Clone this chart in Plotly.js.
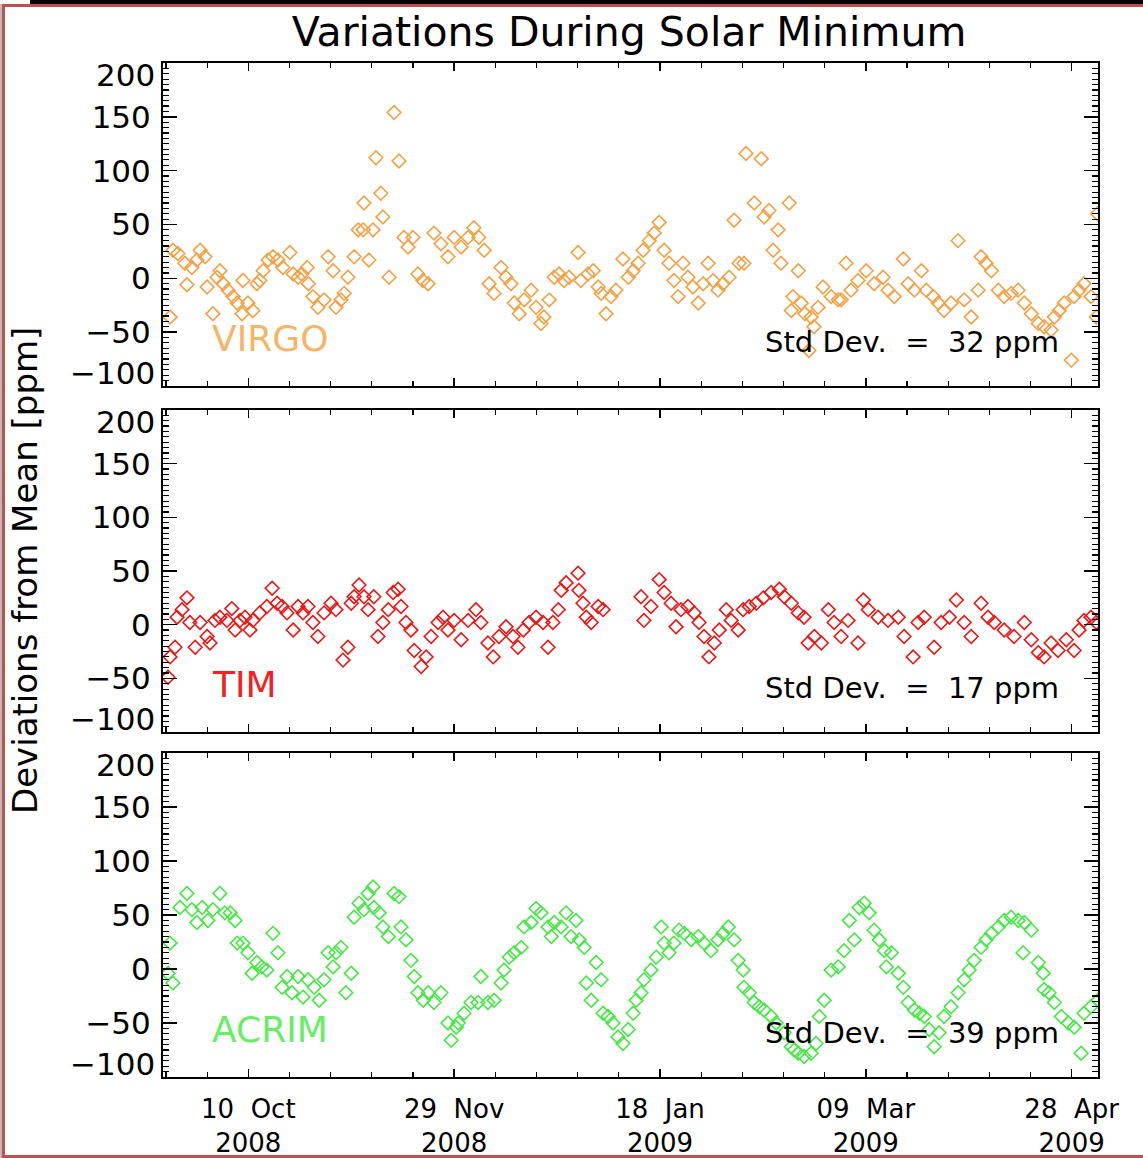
<!DOCTYPE html>
<html>
<head>
<meta charset="utf-8">
<script src="https://cdn.plot.ly/plotly-3.0.1.min.js"></script>
<style>
  html, body { margin: 0; padding: 0; background: #fff; }
  #chart { width: 1143px; height: 1158px; position: absolute; left: 0; top: 0; }
  .frame { position: absolute; }
</style>
</head>
<body>
<div id="chart"></div>
<div class="frame" style="left:30px;top:0;width:1113px;height:4px;background:#000;"></div>
<div class="frame" style="left:2px;top:4px;width:1141px;height:3px;background:#c0504d;"></div>
<div class="frame" style="left:0px;top:4px;width:2px;height:1154px;background:#bbbbbb;"></div>
<div class="frame" style="left:2px;top:4px;width:3px;height:1154px;background:#c0504d;"></div>
<div class="frame" style="left:2px;top:1155px;width:1141px;height:3px;background:#c0504d;"></div>
<script>
// ---- Data (days since 2008-09-19, deviation in ppm) ----
const VIRGO_DAY = [2.0,2.7,3.9,5.6,6.1,7.3,8.5,9.3,10.5,11.0,12.4,13.4,14.1,14.9,16.1,17.3,18.3,19.5,19.7,20.9,22.1,23.1,23.8,24.6,25.8,27.0,28.2,29.4,31.1,31.9,33.1,34.0,35.3,35.6,36.7,37.9,39.4,40.4,41.6,42.3,43.5,44.3,45.2,46.7,47.7,48.9,49.1,50.3,51.3,52.0,53.2,53.7,55.2,56.4,57.6,58.8,59.8,61.0,62.2,63.4,64.7,66.1,67.8,69.5,71.0,72.7,74.4,75.8,77.0,78.3,79.5,80.7,82.4,83.6,84.8,85.6,86.8,88.0,89.7,90.9,92.1,92.8,94.1,95.3,96.5,97.7,98.9,101.1,101.8,103.5,104.8,106.0,106.7,107.9,109.1,110.3,112.0,113.3,114.5,115.7,116.9,118.4,119.6,120.8,122.0,123.2,124.4,125.4,126.6,127.8,129.0,130.3,131.5,132.7,133.9,135.1,136.3,137.8,139.0,140.2,141.4,141.9,143.9,145.6,146.3,147.5,148.5,149.7,150.4,152.4,152.9,153.3,154.6,155.3,156.2,157.2,157.7,158.4,159.4,160.6,162.6,164.3,165.0,166.2,167.4,169.1,171.1,173.0,175.2,176.4,177.9,180.1,181.3,182.8,184.5,185.7,187.4,188.6,190.0,191.7,193.4,194.9,196.6,198.3,199.0,200.2,201.5,203.2,204.6,206.3,208.0,209.5,211.2,212.9,214.3,216.0,216.8,218.0,219.2,220.9,221.6,222.8,224.0,225.7,227.0,227.3];
const VIRGO_VAL = [-36,26,23,14,-6,10,17,26,20,-8,-33,1,7,-5,-11,-17,-23,-33,-2,-23,-30,-5,-2,7,17,20,17,10,24,4,1,4,10,-5,-17,-27,-20,20,7,-27,-20,-14,1,20,45,45,70,17,45,112,79,57,1,154,109,38,29,38,4,-2,-5,42,32,20,38,29,38,47,38,26,-5,-14,10,1,-5,-23,-33,-20,-11,-27,-42,-36,-20,1,4,-2,1,24,-2,4,7,-8,-14,-33,-17,-11,18,1,7,14,26,35,42,52,26,14,-2,-17,14,1,-8,-23,-5,14,-2,-11,-5,1,54,14,14,116,70,111,57,63,26,45,14,70,-30,-17,7,-23,-33,-67,-36,-45,-27,-8,-17,-20,-20,14,-11,-2,7,-5,1,-11,-17,18,-5,-11,7,-11,-17,-23,-30,-23,35,-20,-36,-11,20,14,7,-11,-17,-14,-11,-23,-33,-42,-45,-48,-36,-30,-23,-76,-17,-11,-5,-17,-36,60];

const TIM_DAY = [1.5,2.0,3.2,3.7,4.9,6.1,6.8,8.1,9.3,11.0,11.7,12.9,14.1,15.8,17.0,17.8,19.0,20.2,21.4,22.1,23.8,25.5,26.8,28.0,29.2,30.4,31.9,33.1,34.3,35.5,36.7,37.9,39.4,41.1,42.3,44.0,45.2,46.0,46.7,47.9,49.1,50.1,51.5,52.5,53.7,55.0,56.2,57.4,58.1,59.3,60.5,61.3,63.0,64.2,65.4,67.1,68.3,69.5,71.0,72.7,74.4,76.3,77.5,79.2,80.5,81.9,83.6,85.3,86.5,87.8,89.2,90.9,92.6,93.8,95.0,96.3,97.0,98.2,101.1,101.3,102.3,103.1,104.3,106.0,107.2,116.4,117.1,118.8,120.8,122.0,123.7,124.9,126.1,127.8,129.3,130.5,131.7,132.9,134.2,135.4,137.1,138.3,140.0,141.2,142.7,144.4,146.1,148.0,150.0,151.2,152.9,154.6,156.0,157.0,158.5,160.2,161.9,163.3,165.0,166.7,169.1,170.4,171.6,174.0,176.4,178.9,180.3,182.5,183.7,185.2,187.6,189.3,191.3,193.0,194.9,196.6,199.0,200.7,202.2,204.6,207.0,209.5,211.2,212.9,214.3,216.0,217.7,219.7,221.6,222.8,224.0,225.7,227.0];
const TIM_VAL = [-49,-30,-21,7,14,25,2,-21,2,-11,-17,4,7,4,15,-5,4,7,-5,4,11,17,34,20,17,11,-5,17,11,17,2,-11,11,20,14,-33,-21,20,26,37,26,14,26,-11,2,14,30,33,17,2,-5,-24,-39,-30,-11,2,7,-5,4,-14,4,14,2,-17,-30,-11,-2,-11,-21,-5,2,7,2,-21,2,14,32,39,48,32,20,7,2,17,14,26,4,17,42,30,20,-2,14,17,11,2,-11,-30,-17,-5,14,4,-5,14,17,20,25,30,33,26,20,11,7,-17,-11,-17,14,2,-11,4,-17,23,14,7,4,7,-11,-30,2,7,-21,2,7,23,2,-11,20,7,2,-5,-11,2,-14,-26,-30,-17,-24,-14,-24,-5,4,7,2];

const ACRIM_DAY = [1.5,2.0,2.7,4.4,6.1,7.3,8.5,9.8,11.2,12.4,14.1,15.3,16.6,17.8,18.3,19.7,20.9,21.9,23.1,24.3,25.5,27.0,28.2,29.2,30.4,31.6,33.1,34.3,35.5,37.0,38.2,39.4,40.4,41.6,42.3,43.5,44.7,46.0,46.7,47.9,49.1,50.1,51.3,51.5,52.8,53.7,55.0,56.4,57.6,58.1,59.3,60.5,61.3,62.2,63.5,64.7,66.1,67.8,69.5,70.3,71.5,72.0,73.4,75.1,76.8,77.5,79.2,80.7,82.4,83.1,84.4,85.6,87.3,88.0,89.7,90.9,92.1,93.8,94.6,95.3,97.0,98.2,99.4,100.6,101.4,102.6,103.1,104.3,105.5,106.7,107.2,108.4,109.6,110.8,112.0,113.3,114.5,115.2,116.4,117.1,118.8,120.1,121.3,122.0,123.2,124.4,125.6,126.9,128.6,130.3,131.7,133.4,135.1,136.3,137.6,139.0,140.0,141.2,141.4,142.7,143.9,145.1,146.3,148.0,149.2,151.2,152.9,153.6,154.6,156.0,157.7,158.9,159.7,160.9,162.6,164.3,165.7,167.0,168.2,169.4,170.6,171.8,173.0,174.3,175.5,176.0,177.2,178.9,180.1,181.3,182.8,184.0,185.2,186.4,187.6,188.8,190.0,191.7,193.4,194.9,196.1,197.3,199.0,200.2,201.5,203.2,204.6,206.3,208.0,209.5,211.2,209.2,212.9,214.1,214.3,215.5,216.8,218.5,220.2,221.6,223.3,224.0,225.7,227.4];
const ACRIM_VAL = [-4,24,-13,57,70,55,43,57,45,55,70,52,52,45,24,24,15,-4,6,2,-1,33,15,-17,-7,-22,-7,-26,-10,-17,-29,-10,15,2,15,20,-22,-4,48,61,55,70,76,57,52,39,30,70,67,39,27,8,-7,-22,-29,-22,-31,-22,-50,-66,-54,-50,-41,-31,-31,-7,-31,-29,-13,-1,11,15,20,39,43,56,52,39,30,43,39,52,30,45,27,20,-13,-29,6,-10,-41,-44,-50,-63,-69,-56,-41,-29,-22,-10,-1,11,39,24,15,24,36,33,27,30,24,17,27,33,39,27,8,-1,-17,-22,-31,-35,-38,-44,-50,-59,-72,-75,-78,-81,-78,-69,-44,-29,-1,2,17,45,27,57,61,52,36,27,17,2,15,-4,-17,-31,-38,-41,-44,-56,-72,-59,-44,-35,-22,-10,-1,8,20,27,33,39,45,48,45,43,36,15,6,-4,-19,-22,-31,-44,-50,-54,-78,-41,-35,-29];

const PANEL_NAMES = ['VIRGO', 'TIM', 'ACRIM'];
const STD_DEV = [32, 17, 39];
const COLORS = ['#f5a043', '#ee1515', '#45e845'];
const LABEL_COLORS = ['#f7b466', '#ee2222', '#66ee66'];

const TICK_DATES = ['2008-10-10', '2008-11-29', '2009-01-18', '2009-03-09', '2009-04-28'];
const TICK_TEXT = ['10\u00a0 Oct<br>2008', '29\u00a0 Nov<br>2008', '18\u00a0 Jan<br>2009', '09\u00a0 Mar<br>2009', '28\u00a0 Apr<br>2009'];
const Y_TICKS = [-100, -50, 0, 50, 100, 150, 200];
// end labels (200 and -100) are drawn nudged inward, as in the original
const Y_TICK_TEXT = ['', '\u221250', '0', '50', '100', '150', ''];
const Y_END_LABELS = ['200', '\u2212100'];

// ---- helpers ----
const START = Date.UTC(2008, 8, 19);
function dayToDate(d) {
  return new Date(START + d * 86400000).toISOString().replace('T', ' ').slice(0, 19);
}

const days = [VIRGO_DAY, TIM_DAY, ACRIM_DAY];
const vals = [VIRGO_VAL, TIM_VAL, ACRIM_VAL];

const traces = PANEL_NAMES.map((name, i) => ({
  type: 'scatter',
  mode: 'markers',
  name: name,
  x: days[i].map(dayToDate),
  y: vals[i],
  xaxis: i === 0 ? 'x' : 'x' + (i + 1),
  yaxis: i === 0 ? 'y' : 'y' + (i + 1),
  marker: { symbol: 'diamond-open', size: 10.5, color: COLORS[i], line: { width: 1.6, color: COLORS[i] } },
  cliponaxis: true,
  hoverinfo: 'x+y'
}));

const FONT = 'DejaVu Sans, sans-serif';
const xRange = [dayToDate(0.28), dayToDate(227.4)];
const domains = [[0.6815, 1], [0.3402, 0.6578], [0, 0.3195]];

function xAxis(i) {
  return {
    type: 'date',
    range: xRange,
    anchor: i === 0 ? 'y' : 'y' + (i + 1),
    tickmode: 'array',
    tickvals: TICK_DATES,
    ticktext: TICK_TEXT,
    showticklabels: i === 2,
    ticks: 'inside',
    ticklen: 8,
    tickwidth: 1.5,
    tickcolor: '#000',
    minor: { tick0: '2008-10-10', dtick: 10 * 86400000, ticks: 'inside', ticklen: 5, tickwidth: 1.2, tickcolor: '#000', showgrid: false },
    showline: true,
    linecolor: '#000',
    linewidth: 2,
    mirror: 'ticks',
    showgrid: false,
    zeroline: false,
    tickfont: { family: FONT, size: 26, color: '#000' },
    ticklabelstandoff: 8,
    fixedrange: true
  };
}
function yAxis(i) {
  return {
    domain: domains[i],
    anchor: i === 0 ? 'x' : 'x' + (i + 1),
    range: [-100, 200],
    tickmode: 'array',
    tickvals: Y_TICKS,
    ticktext: Y_TICK_TEXT,
    ticks: 'inside',
    ticklen: 14,
    tickwidth: 1.5,
    tickcolor: '#000',
    minor: { dtick: 5, ticks: 'inside', ticklen: 6, tickwidth: 1.2, tickcolor: '#000', showgrid: false },
    showline: true,
    linecolor: '#000',
    linewidth: 2,
    mirror: 'ticks',
    showgrid: false,
    zeroline: false,
    tickfont: { family: FONT, size: 31, color: '#000' },
    ticklabelstandoff: 4,
    fixedrange: true
  };
}

const annotations = [];
PANEL_NAMES.forEach((name, i) => {
  const xr = (i === 0 ? 'x' : 'x' + (i + 1)) + ' domain';
  const yr = i === 0 ? 'y' : 'y' + (i + 1);
  annotations.push({
    xref: xr, yref: yr, x: 0.05, y: -56, xanchor: 'left', yanchor: 'middle',
    text: name, showarrow: false, font: { family: FONT, size: 36, color: LABEL_COLORS[i] }
  });
  annotations.push({
    xref: xr, yref: yr, x: 0.96, y: -59, xanchor: 'right', yanchor: 'middle',
    text: 'Std Dev.\u00a0 =\u00a0 ' + STD_DEV[i] + ' ppm', showarrow: false,
    font: { family: FONT, size: 29, color: '#000' }
  });
  // nudged end tick labels
  annotations.push({
    xref: xr, yref: yr, x: -0.006, y: 189, xanchor: 'right', yanchor: 'middle',
    text: Y_END_LABELS[0], showarrow: false, font: { family: FONT, size: 31, color: '#000' }
  });
  annotations.push({
    xref: xr, yref: yr, x: -0.006, y: -88, xanchor: 'right', yanchor: 'middle',
    text: Y_END_LABELS[1], showarrow: false, font: { family: FONT, size: 31, color: '#000' }
  });
});
annotations.push({
  xref: 'paper', yref: 'paper', x: -0.1476, y: 0.5, xanchor: 'center', yanchor: 'middle',
  text: 'Deviations from Mean [ppm]', textangle: -90, showarrow: false,
  font: { family: FONT, size: 34, color: '#000' }
});

const layout = {
  width: 1143,
  height: 1158,
  paper_bgcolor: '#fff',
  plot_bgcolor: '#fff',
  margin: { l: 163, r: 45, t: 63, b: 81 },
  showlegend: false,
  title: {
    text: 'Variations During Solar Minimum',
    font: { family: FONT, size: 41, color: '#000' },
    xref: 'container', x: 0.5503, xanchor: 'center',
    yref: 'container', y: 1 - 32 / 1158, yanchor: 'middle'
  },
  xaxis: xAxis(0), xaxis2: xAxis(1), xaxis3: xAxis(2),
  yaxis: yAxis(0), yaxis2: yAxis(1), yaxis3: yAxis(2),
  annotations: annotations
};

Plotly.newPlot('chart', traces, layout, { displayModeBar: false, staticPlot: true });
</script>
</body>
</html>
